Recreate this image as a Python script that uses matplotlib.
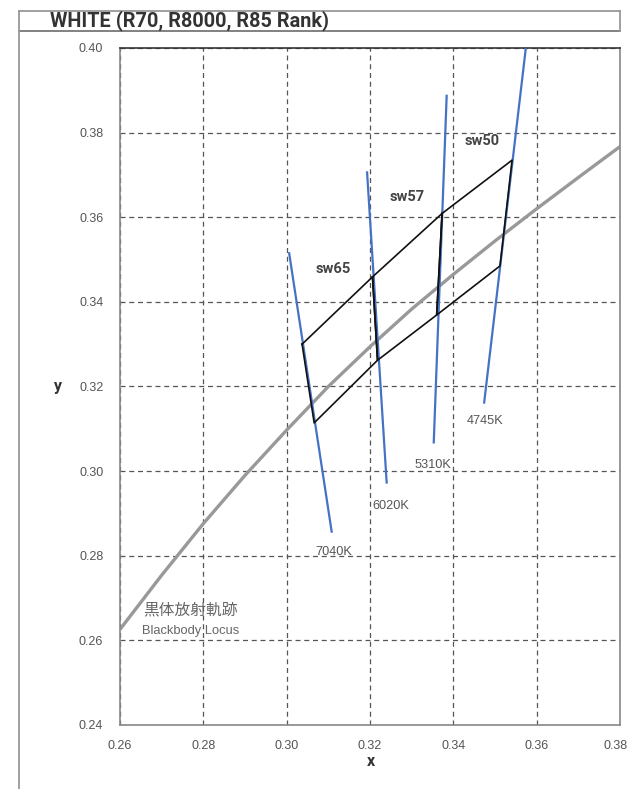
import matplotlib.pyplot as plt
import matplotlib.transforms as mtransforms
from matplotlib.lines import Line2D

# blackbody locus
locus_x = [0.2600, 0.2700, 0.2800, 0.2900, 0.3000, 0.3100, 0.3200, 0.3300, 0.3400, 0.3500, 0.3600, 0.3700, 0.3800]
locus_y = [0.2626, 0.2754, 0.2876, 0.2990, 0.3097, 0.3200, 0.3294, 0.3383, 0.3465, 0.3544, 0.3620, 0.3694, 0.3767]

# isotherm lines: (top x, top y), (bottom x, bottom y)
cct_names = ['7040K', '6020K', '5310K', '4745K']
cct_x = [[0.3006, 0.3108], [0.3193, 0.3240], [0.3384, 0.3353], [0.3574, 0.3474]]
cct_y = [[0.3515, 0.2857], [0.3706, 0.2973], [0.3887, 0.3068], [0.4000, 0.3162]]
cct_label_x = [0.3113, 0.3251, 0.3352, 0.3477]
cct_label_y = [0.2809, 0.2917, 0.3014, 0.3118]

# rank boxes (upper-left, upper-right, lower-right, lower-left)
rank_names = ['sw65', 'sw57', 'sw50']
rank_x = [[0.3037, 0.3206, 0.3218, 0.3066],
          [0.3206, 0.3373, 0.3360, 0.3218],
          [0.3373, 0.3541, 0.3512, 0.3360]]
rank_y = [[0.3300, 0.3459, 0.3262, 0.3114],
          [0.3459, 0.3609, 0.3369, 0.3262],
          [0.3609, 0.3735, 0.3485, 0.3369]]
rank_label_x = [0.3111, 0.3289, 0.3470]
rank_label_y = [0.3478, 0.3648, 0.3780]

x_ticks = [0.26, 0.28, 0.30, 0.32, 0.34, 0.36, 0.38]
y_ticks = [0.24, 0.26, 0.28, 0.30, 0.32, 0.34, 0.36, 0.38, 0.40]

W, H = 629, 789
fig = plt.figure(figsize=(W / 100, H / 100), dpi=100)
ax = fig.add_axes([120 / W, 1 - 725 / H, 500 / W, 677 / H])

tick_font = ['Liberation Sans', 'DejaVu Sans']
bold_font = ['Roboto', 'DejaVu Sans']
cjk_font = ['Noto Sans CJK JP', 'DejaVu Sans']

ax.plot(locus_x, locus_y, color='#999999', lw=2.4, zorder=2, solid_capstyle='butt')

blue = '#4472C4'
for i, name in enumerate(cct_names):
    ax.plot(cct_x[i], cct_y[i], color=blue, lw=1.6, zorder=3)
    ax.text(cct_label_x[i], cct_label_y[i], name, family=tick_font, fontsize=9.2,
            color='#555555', ha='center', va='center')

for i, name in enumerate(rank_names):
    xs = rank_x[i] + [rank_x[i][0]]
    ys = rank_y[i] + [rank_y[i][0]]
    ax.plot(xs, ys, color='#111111', lw=1.2, zorder=4)
    ax.text(rank_label_x[i], rank_label_y[i], name, family=bold_font,
            fontsize=10.5, fontweight='bold', color='#444444', ha='center', va='center')

ax.text(0.2769, 0.2672, '黒体放射軌跡', family=cjk_font, fontsize=11.3, color='#666666',
        ha='center', va='center')
ax.text(0.2769, 0.2622, 'Blackbody Locus', family=tick_font, fontsize=9.3, color='#666666',
        ha='center', va='center')

ax.set_xlim(0.26, 0.38)
ax.set_ylim(0.24, 0.40)
ax.set_xticks(x_ticks)
ax.set_yticks(y_ticks)
ax.set_xticklabels([f'{v:.2f}' for v in x_ticks], family=tick_font, fontsize=9, color='#555555')
ax.set_yticklabels([f'{v:.2f}' for v in y_ticks], family=tick_font, fontsize=9, color='#555555')
ax.tick_params(axis='x', length=0, pad=11)
ax.tick_params(axis='y', length=0, pad=12)

# keep the last x label inside the canvas
last = ax.get_xticklabels()[-1]
last.set_horizontalalignment('right')
last.set_transform(last.get_transform() + mtransforms.ScaledTranslation(8 / 100, 0, fig.dpi_scale_trans))

ax.grid(True, color='#555555', ls=(0, (4, 3)), lw=0.9)
ax.set_axisbelow(True)
for side in ['left', 'bottom', 'right']:
    ax.spines[side].set_color('#888888')
    ax.spines[side].set_linewidth(1.2)
ax.spines['top'].set_color('#333333')
ax.spines['top'].set_linewidth(1.2)

fig.text(371 / W, 1 - 761 / H, 'x', family=bold_font, fontsize=11.5, fontweight='bold',
         color='#333333', ha='center', va='center')
fig.text(57 / W, 1 - 387 / H, 'y', family=bold_font, fontsize=11.5, fontweight='bold',
         color='#333333', ha='center', va='center')

# title band and left frame line
frame = '#999999'
fig.add_artist(Line2D([19 / W, 620 / W], [1 - 11 / H, 1 - 11 / H], color=frame, lw=1.3))
fig.add_artist(Line2D([19 / W, 620 / W], [1 - 30.5 / H, 1 - 30.5 / H], color='#777777', lw=1.3))
fig.add_artist(Line2D([620 / W, 620 / W], [1 - 11 / H, 1 - 30.5 / H], color=frame, lw=1.3))
fig.add_artist(Line2D([19 / W, 19 / W], [1 - 11 / H, 0], color=frame, lw=1.3))
fig.text(50 / W, 1 - 21 / H, 'WHITE (R70, R8000, R85 Rank)', family=bold_font,
         fontsize=14.3, fontweight='bold', color='#333333', ha='left', va='center')

fig.savefig('out.png', dpi=100)
